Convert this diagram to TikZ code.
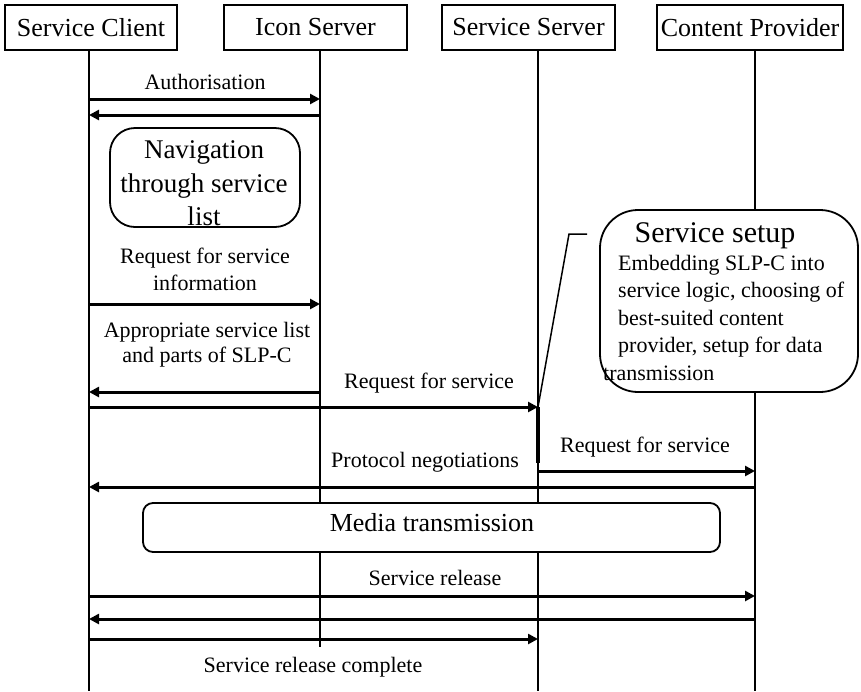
\documentclass[tikz,border=0pt]{standalone}
\usepackage{fontspec}
\setmainfont{Liberation Serif}
\usetikzlibrary{arrows.meta}
\begin{document}
\begin{tikzpicture}[x=1pt,y=-1pt,
  hdr/.style={draw,line width=2.2pt,minimum height=45pt,inner sep=0pt,font=\fontsize{26}{30}\selectfont},
  life/.style={line width=2.6pt},
  thicklife/.style={line width=4pt},
  msg/.style={line width=3pt,-{Triangle[length=10pt,width=10pt]}},
  lbl/.style={font=\fontsize{22}{26}\selectfont,inner sep=0pt,anchor=base},
  big/.style={font=\fontsize{27}{32}\selectfont,inner sep=0pt,anchor=base},
  rbox/.style={draw,line width=1.8pt,fill=white,inner sep=0pt},
  pointer/.style={line width=1.5pt}]
\useasboundingbox (0,0) rectangle (861,691);
% headers
\node[hdr,minimum width=172pt] (hsc) at (91,27.5) {Service Client};
\node[hdr,minimum width=183pt] (his) at (315.5,27.5) {Icon Server};
\node[hdr,minimum width=173pt] (hss) at (528.5,27.5) {Service Server};
\node[hdr,minimum width=186pt] (hcp) at (750,27.5) {Content Provider};
% lifeline anchors
\coordinate (sc) at (89,50);
\coordinate (is) at (320,50);
\coordinate (ss) at (538,50);
\coordinate (cp) at (755,50);
% lifelines
\draw[life] (sc) -- (sc |- 0,691);
\draw[life] (is) -- (is |- 0,647);
\draw[life] (ss) -- (ss |- 0,691);
\draw[life] (cp) -- (cp |- 0,691);
\draw[thicklife] (ss |- 0,407) -- (ss |- 0,463);
% navigation box
\node[rbox,rounded corners=25pt,minimum width=190pt,minimum height=99pt] (nav) at (205,177.5) {};
\node[big] (nav1) at (204,158) {Navigation};
\node[big] (nav2) at (204,192) {through service};
\node[big] (nav3) at (204,225) {list};
% callout
\node[rbox,rounded corners=38pt,minimum width=258pt,minimum height=182pt] (cb) at (729,301) {};
\node[font=\fontsize{30}{34}\selectfont,inner sep=0pt,anchor=base] (ct0) at (715,242) {Service setup};
\node[lbl,anchor=base west] (ct1) at (618,270) {Embedding SLP-C into};
\node[lbl,anchor=base west] (ct2) at (618,297.5) {service logic, choosing of};
\node[lbl,anchor=base west] (ct3) at (618,325) {best-suited content};
\node[lbl,anchor=base west] (ct4) at (618,352.5) {provider, setup for data};
\node[lbl,anchor=base west] (ct5) at (603,380) {transmission};
\coordinate (pk) at (569,234);
\coordinate (pe) at (587,234);
\draw[pointer] (ss |- 0,407) -- (pk) -- (pe);
% media box
\node[rbox,rounded corners=10pt,minimum width=577pt,minimum height=49pt] (mt) at (431.5,527.5) {};
\node[font=\fontsize{26}{30}\selectfont,inner sep=0pt,anchor=base] (mtt) at (432,531) {Media transmission};
% messages
\node[lbl] (l1) at (205,89) {Authorisation};
\draw[msg] (sc |- 0,99) -- (is |- 0,99);
\draw[msg] (is |- 0,115) -- (sc |- 0,115);
\node[lbl] (l2a) at (205,263) {Request for service};
\node[lbl] (l2b) at (205,290) {information};
\draw[msg] (sc |- 0,304) -- (is |- 0,304);
\node[lbl] (l3a) at (207,337) {Appropriate service list};
\node[lbl] (l3b) at (207,362) {and parts of SLP-C};
\draw[msg] (is |- 0,392) -- (sc |- 0,392);
\node[lbl] (l4) at (429,388) {Request for service};
\draw[msg] (sc |- 0,407) -- (ss |- 0,407);
\node[lbl] (l5) at (645,452) {Request for service};
\draw[msg] (ss |- 0,471) -- (cp |- 0,471);
\node[lbl] (l6) at (425,467) {Protocol negotiations};
\draw[msg] (cp |- 0,487) -- (sc |- 0,487);
\node[lbl] (l7) at (435,585) {Service release};
\draw[msg] (sc |- 0,596) -- (cp |- 0,596);
\draw[msg] (cp |- 0,619) -- (sc |- 0,619);
\draw[msg] (sc |- 0,639) -- (ss |- 0,639);
\node[lbl] (l8) at (313,672) {Service release complete};
\end{tikzpicture}
\end{document}
